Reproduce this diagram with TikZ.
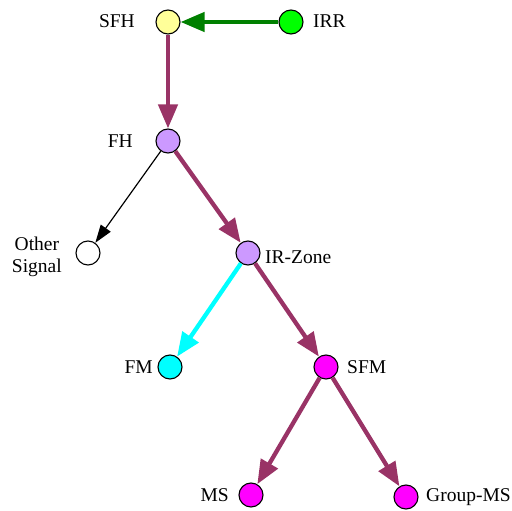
\documentclass[tikz,border=0pt]{standalone}
\usepackage{fontspec}
\setmainfont{Liberation Serif}
\usetikzlibrary{arrows.meta}
\definecolor{edgepurple}{HTML}{993366}
\definecolor{edgegreen}{HTML}{008000}
\definecolor{edgecyan}{HTML}{00FFFF}
\definecolor{fillyellow}{HTML}{FFFF99}
\definecolor{fillgreen}{HTML}{00FF00}
\definecolor{filllav}{HTML}{CC99FF}
\definecolor{fillcyan}{HTML}{00FFFF}
\definecolor{fillmag}{HTML}{FF00FF}
\begin{document}
\begin{tikzpicture}[x=1pt,y=-1pt,
  vert/.style={circle, draw=black, line width=1.1pt, minimum size=24pt, inner sep=0pt},
  lab/.style={font=\fontsize{19.5}{22.5}\selectfont, inner sep=0pt},
  bigedge/.style={line width=4.3pt, -{Triangle[length=24pt,width=19pt]}},
  purpleedge/.style={bigedge, draw=edgepurple, fill=edgepurple},
  greenedge/.style={bigedge, draw=edgegreen, fill=edgegreen},
  cyanedge/.style={bigedge, draw=edgecyan, fill=edgecyan},
  thinedge/.style={line width=1.2pt, draw=black, -{Triangle[length=18pt,width=12pt]}}]
\useasboundingbox (0,0) rectangle (512,511);
% vertices
\node[vert, fill=fillyellow] (sfh) at (168,22) {};
\node[vert, fill=fillgreen] (irr) at (291,22) {};
\node[vert, fill=filllav] (fh) at (168,141) {};
\node[vert, fill=white] (other) at (88,253) {};
\node[vert, fill=filllav] (irz) at (248,253) {};
\node[vert, fill=fillcyan] (fm) at (170,367) {};
\node[vert, fill=fillmag] (sfm) at (326,367) {};
\node[vert, fill=fillmag] (ms) at (251,495) {};
\node[vert, fill=fillmag] (gms) at (406,497) {};
% labels
\node[lab, anchor=east] (lsfh) at (135,21) {SFH};
\node[lab, anchor=west] (lirr) at (313,21) {IRR};
\node[lab, anchor=east] (lfh) at (133,141) {FH};
\node[lab, anchor=east, align=center] (lother) at (62,257) {Other\\Signal};
\node[lab, anchor=west] (lirz) at (265,257) {IR-Zone};
\node[lab, anchor=east] (lfm) at (153,367) {FM};
\node[lab, anchor=west] (lsfm) at (347,367) {SFM};
\node[lab, anchor=east] (lms) at (229,495) {MS};
\node[lab, anchor=west] (lgms) at (426,497) {Group-MS};
% edges
\draw[greenedge] (irr) -- (sfh);
\draw[purpleedge] (sfh) -- (fh);
\draw[thinedge] (fh) -- (other);
\draw[purpleedge] (fh) -- (irz);
\draw[cyanedge] (irz) -- (fm);
\draw[purpleedge] (irz) -- (sfm);
\draw[purpleedge] (sfm) -- (ms);
\draw[purpleedge] (sfm) -- (gms);
\end{tikzpicture}
\end{document}
